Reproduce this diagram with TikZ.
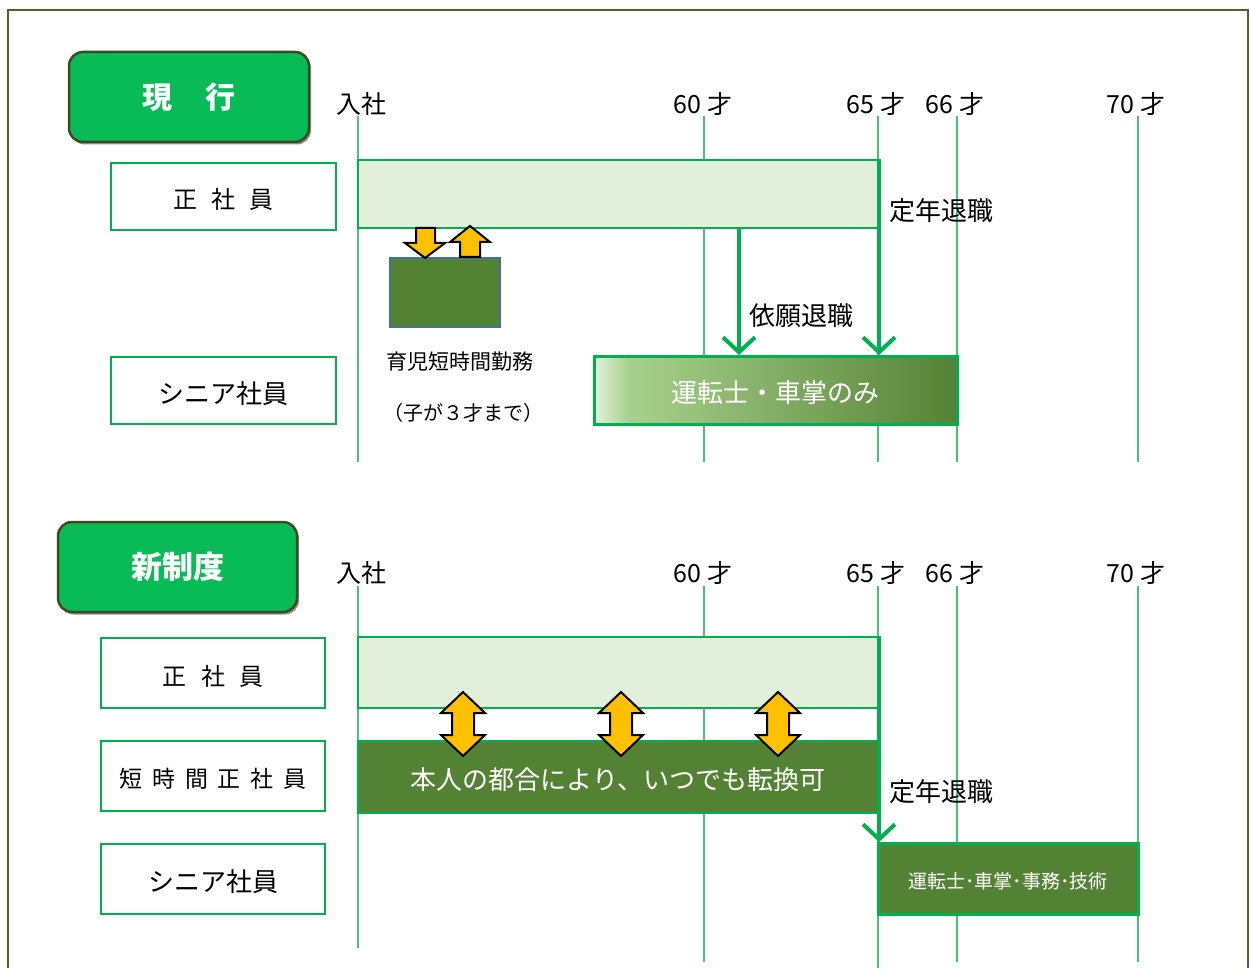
\documentclass[tikz,border=0pt]{standalone}
\usepackage{fontspec}
\setmainfont{Noto Sans CJK JP}
\usetikzlibrary{arrows.meta,shadows}
\definecolor{frame}{RGB}{79,98,40}
\definecolor{tgreen}{RGB}{8,187,87}
\definecolor{tborder}{RGB}{60,74,34}
\definecolor{gline}{RGB}{0,176,80}
\definecolor{vcol}{RGB}{75,192,118}
\definecolor{lightg}{RGB}{226,239,218}
\definecolor{midg}{RGB}{169,209,142}
\definecolor{darkg}{RGB}{84,130,53}
\definecolor{yel}{RGB}{255,192,0}
\definecolor{bluegray}{RGB}{65,113,156}
\newcommand{\fs}[1]{\fontsize{#1}{#1}\selectfont}
\newcommand{\dn}[1]{\raisebox{-3pt}[\height][\depth]{#1}}
\begin{document}
\begin{tikzpicture}[x=1pt,y=-1pt,
  titlebox/.style={rounded corners=14pt, fill=tgreen, draw=tborder, line width=2.5pt,
    text=white, font=\fs{30}\bfseries, inner sep=0pt,
    drop shadow={shadow xshift=2pt, shadow yshift=-2.5pt, opacity=0.55, fill=black!80}},
  labbox/.style={draw=gline, line width=2.5pt, fill=white, inner sep=0pt, font=\fs{24}},
  bar/.style={draw=gline, line width=2.5pt, inner sep=0pt},
  vline/.style={draw=vcol, line width=1.5pt},
  garrow/.style={draw=gline, line width=4pt, -{Straight Barb[length=15pt,width=32pt]}},
  yarrow/.style={fill=yel, draw=black, line width=2pt, line join=miter},
  age/.style={font=\fs{25}, inner sep=0pt},
  txt/.style={font=\fs{26}, inner sep=0pt, anchor=west},
  small/.style={font=\fs{20}, inner sep=0pt, anchor=west}
]
\useasboundingbox (0,0) rectangle (1250,968);
% outer frame
\draw[frame, line width=2.5pt] (8,968) -- (8,10) -- (1248,10) -- (1248,968);

% ================= top section =================
\node[titlebox, minimum width=240pt, minimum height=90pt] (cur) at (189,97) {現\hspace{1.1em}行};

\node[age] (a0) at (361,104) {入社};
\node[age] (a60) at (703,104) {60 才};
\node[age] (a65) at (876,104) {65 才};
\node[age] (a66) at (955,104) {66 才};
\node[age] (a70) at (1136,104) {70 才};

\foreach \x/\n in {358/a, 704/b, 878/c, 957/d, 1138/e}{
  \coordinate (t\n s) at (\x,116);
  \coordinate (t\n e) at (\x,462);
  \draw[vline] (t\n s) -- (t\n e);
}

\node[labbox, minimum width=225pt, minimum height=67pt] (ls1) at (223.5,196.5)
  {\fs{24}\dn{正\hspace{0.6em}社\hspace{0.6em}員}};
\node[labbox, minimum width=225pt, minimum height=67pt] (ls2) at (223.5,390.5)
  {\fs{26}\dn{シニア社員}};

\node[bar, fill=lightg, minimum width=520pt, minimum height=68pt] (bar1) at (618,194) {};

\node[draw=bluegray, fill=darkg, line width=2pt, minimum width=110pt, minimum height=69pt, inner sep=0pt] (ikuji) at (445,292.5) {};

% small yellow arrows
\draw[yarrow] (416,228) -- (435,228) -- (435,243) -- (445,243) -- (425,258) -- (405,243) -- (416,243) -- cycle;
\draw[yarrow] (470,226) -- (490,242) -- (480,242) -- (480,257) -- (460,257) -- (460,242) -- (450,242) -- cycle;

\node[small, font=\fs{21}] (ik1) at (386,362) {育児短時間勤務};
\node[small] (ik2) at (383,413) {（子が３才まで）};

% senior bar (gradient)
\shade[left color=lightg, right color=midg] (595,357) rectangle (628,423);
\shade[left color=midg, right color=darkg] (627,357) rectangle (956,423);
\node[draw=gline, line width=3pt, minimum width=363pt, minimum height=68pt, inner sep=0pt,
  text=white, font=\fs{26}] (sen1) at (775.5,390) {\dn{運転士・車掌のみ}};

% arrows
\coordinate (r1s) at (879,159);
\coordinate (r1e) at (879,355);
\draw[garrow] (r1s) -- (r1e);
\coordinate (q1s) at (739,228);
\coordinate (q1e) at (739,355);
\draw[garrow] (q1s) -- (q1e);

\node[txt] (tn1) at (889,211) {定年退職};
\node[txt] (ir1) at (749,316) {依願退職};

% ================= bottom section =================
\node[titlebox, font=\fs{31}\bfseries, minimum width=239pt, minimum height=90pt] (new) at (177.5,567) {新制度};

\node[age] (b0) at (361,573) {入社};
\node[age] (b60) at (703,573) {60 才};
\node[age] (b65) at (876,573) {65 才};
\node[age] (b66) at (955,573) {66 才};
\node[age] (b70) at (1136,573) {70 才};

\foreach \x/\n/\e in {358/a/948, 704/b/962, 878/c/968, 957/d/962, 1138/e/962}{
  \coordinate (u\n s) at (\x,586);
  \coordinate (u\n e) at (\x,\e);
  \draw[vline] (u\n s) -- (u\n e);
}

\node[labbox, minimum width=224pt, minimum height=70pt] (lb1) at (213,673)
  {\fs{24}\dn{正\hspace{0.6em}社\hspace{0.6em}員}};
\node[labbox, minimum width=224pt, minimum height=70pt] (lb2) at (213,776)
  {\fs{23}\dn{短\hspace{0.42em}時\hspace{0.42em}間\hspace{0.42em}正\hspace{0.42em}社\hspace{0.42em}員}};
\node[labbox, minimum width=224pt, minimum height=70pt] (lb3) at (213,879)
  {\fs{26}\dn{シニア社員}};

\node[bar, fill=lightg, minimum width=522pt, minimum height=71pt] (bar2) at (619,672.5) {};
\node[bar, fill=darkg, minimum width=520pt, minimum height=72pt, text=white, font=\fs{26}] (bar3) at (618,777)
  {\dn{本人の都合により、いつでも転換可}};

\foreach \c in {463,621,778}{
  \draw[yarrow] (\c,692) -- (\c+22,713) -- (\c+11,713) -- (\c+11,735) -- (\c+22,735) -- (\c,756)
    -- (\c-22,735) -- (\c-11,735) -- (\c-11,713) -- (\c-22,713) -- cycle;
}

\node[bar, line width=3pt, fill=darkg, minimum width=260pt, minimum height=71pt, text=white, font=\fs{19}] (sen2) at (1008,878.5)
  {\dn{運転士･車掌･事務･技術}};

\coordinate (r2s) at (879,636);
\coordinate (r2e) at (879,842);
\draw[garrow] (r2s) -- (r2e);

\node[txt] (tn2) at (889,792) {定年退職};
\end{tikzpicture}
\end{document}
